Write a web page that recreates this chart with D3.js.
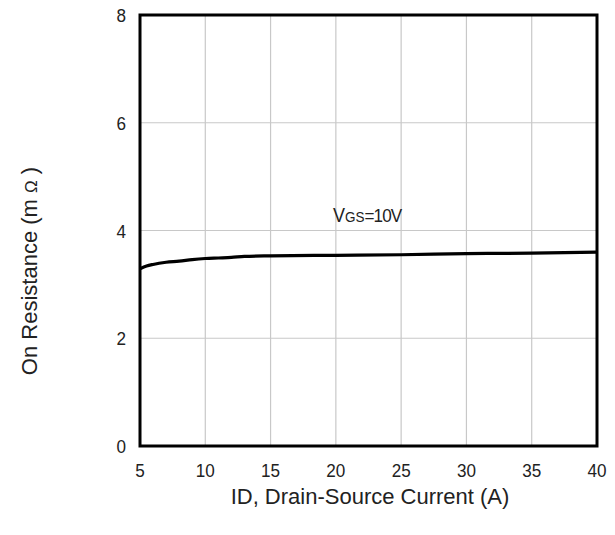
<!DOCTYPE html>
<html><head><meta charset="utf-8">
<script src="https://cdn.jsdelivr.net/npm/d3@7"></script>
<style>body{margin:0;background:#fff}</style>
</head><body>
<svg id="c" width="615" height="535"></svg>
<script>
const xTicks = [5,10,15,20,25,30,35,40];
const yTicks = [0,2,4,6,8];
const currentA = [5,5.5,6,7,8,9,10,11,12,13,15,20,25,30,35,40];
const resistance = [3.29,3.34,3.37,3.41,3.43,3.46,3.48,3.49,3.50,3.52,3.53,3.54,3.55,3.57,3.58,3.60];

const svg = d3.select("#c");
const L=140,R=597,T=15,B=446;
const x = d3.scaleLinear().domain([5,40]).range([L,R]);
const y = d3.scaleLinear().domain([0,8]).range([B,T]);
const font = "Liberation Sans, Arial, sans-serif";

// grid
svg.append("g").selectAll("line").data(xTicks.slice(1,-1)).join("line")
  .attr("x1",d=>x(d)).attr("x2",d=>x(d)).attr("y1",T).attr("y2",B)
  .attr("stroke","#c8c8c8").attr("stroke-width",1.2);
svg.append("g").selectAll("line").data(yTicks.slice(1,-1)).join("line")
  .attr("y1",d=>y(d)).attr("y2",d=>y(d)).attr("x1",L).attr("x2",R)
  .attr("stroke","#c8c8c8").attr("stroke-width",1.2);

// frame
svg.append("rect").attr("x",L).attr("y",T).attr("width",R-L).attr("height",B-T)
  .attr("fill","none").attr("stroke","#000").attr("stroke-width",3);

// tick labels
svg.append("g").selectAll("text").data(xTicks).join("text")
  .attr("transform",d=>`translate(${x(d)},${B+31}) scale(0.9,1)`).attr("text-anchor","middle")
  .attr("font-family",font).attr("font-size",19).attr("fill","#222").text(d=>d);
svg.append("g").selectAll("text").data(yTicks).join("text")
  .attr("transform",d=>`translate(${L-14},${y(d)+7}) scale(0.9,1)`).attr("text-anchor","end")
  .attr("font-family",font).attr("font-size",19).attr("fill","#222").text(d=>d);

// curve
svg.append("path").datum(currentA.map((c,i)=>[c,resistance[i]]))
  .attr("d",d3.line().x(d=>x(d[0])).y(d=>y(d[1])).curve(d3.curveMonotoneX))
  .attr("fill","none").attr("stroke","#000").attr("stroke-width",3.2);

// label
const lab = svg.append("text").attr("transform","translate(333,222) scale(0.9,1)")
  .attr("font-family",font).attr("font-size",20).attr("fill","#222");
lab.append("tspan").text("V");
lab.append("tspan").attr("font-size",15).text("GS");
lab.append("tspan").attr("font-size",19).attr("letter-spacing",-1).text("=10V");

// axis titles
svg.append("text").attr("x",370).attr("y",504).attr("text-anchor","middle")
  .attr("font-family",font).attr("font-size",22).attr("fill","#222")
  .text("ID, Drain-Source Current (A)");
const yt = svg.append("text").attr("transform","translate(37,271) rotate(-90)")
  .attr("text-anchor","middle").attr("font-family",font).attr("font-size",22).attr("fill","#222");
yt.append("tspan").text("On Resistance (m ");
yt.append("tspan").attr("font-size",17).text("Ω");
yt.append("tspan").text(" )");
</script>
</body></html>
